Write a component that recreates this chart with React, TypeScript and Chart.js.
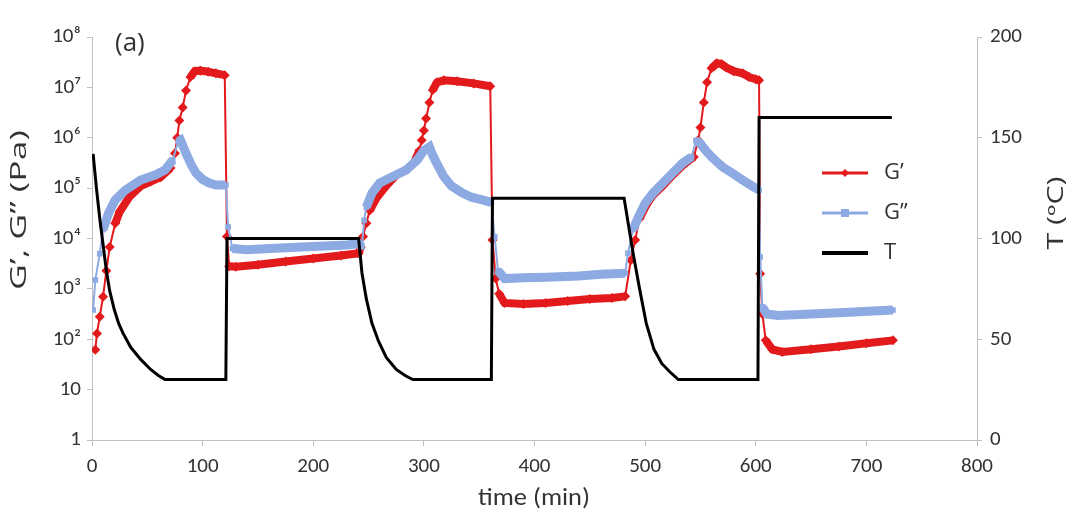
import React, { useEffect, useRef } from "react";
import { Chart, registerables } from "chart.js";
Chart.register(...registerables);

// ---- data ----
const gPrimeTime = [
  3, 4.5, 7, 10, 13, 16, 21, 25, 34, 44, 53, 62, 71, 75, 77, 79, 82, 85, 89, 93, 98, 105, 112, 120,
  122, 124, 130, 150, 175, 200, 225, 241,
  243, 245, 248, 251, 257, 266, 275, 284, 291, 296, 298, 300, 302, 305, 308, 312, 318, 330, 345, 360,
  362, 365, 368, 373, 390, 410, 430, 450, 470, 482,
  487, 491, 495, 501, 507, 516, 525, 534, 544, 548, 550, 553, 556, 560, 565, 569, 573, 580, 588, 594, 600, 603,
  604, 606, 609, 615, 624, 650, 675, 700, 724,
];
const gPrimeValues = [
  62, 130, 280, 700, 2300, 6800, 20000, 34000, 68000, 110000, 135000, 165000, 250000, 490000, 1e6, 2.2e6, 4e6, 8.7e6, 1.6e7, 2.1e7, 2.15e7, 2.05e7, 1.9e7, 1.75e7,
  11000, 2800, 2750, 3000, 3500, 4000, 4600, 5100,
  6800, 11000, 20000, 36000, 63000, 112000, 182000, 229000, 316000, 560000, 890000, 1.4e6, 2.4e6, 5e6, 8.9e6, 1.26e7, 1.38e7, 1.32e7, 1.2e7, 1.05e7,
  9300, 1600, 800, 525, 500, 525, 575, 630, 660, 710,
  3700, 9300, 25000, 46000, 72000, 112000, 182000, 282000, 417000, 890000, 1.6e6, 5e6, 1.26e7, 2.4e7, 3.0e7, 2.9e7, 2.5e7, 2.1e7, 1.9e7, 1.6e7, 1.45e7, 1.38e7,
  2000, 316, 95, 63, 56, 63, 72, 83, 95,
];

const gDoublePrimeTime = [
  1, 3, 7, 10, 15, 21, 30, 44, 57, 66, 73, 78, 80, 85, 90, 94, 100, 106, 112, 121,
  123, 127, 140, 170, 200, 230, 241,
  244, 246, 248, 253, 260, 271, 284, 294, 300, 305, 308, 312, 318, 325, 335, 343, 352, 361,
  364, 367, 373, 390, 410, 440, 460, 482,
  484.5, 489, 494, 500, 507, 516, 525, 534, 542, 546, 550, 555, 560, 565, 570, 580, 588, 596, 603,
  604, 606, 610, 620, 650, 680, 724,
];
const gDoublePrimeValues = [
  380, 1500, 5000, 15000, 32000, 58000, 91000, 145000, 182000, 229000, 363000, 850000, 900000, 490000, 282000, 200000, 148000, 126000, 115000, 115000,
  17000, 6300, 6000, 6500, 6900, 7400, 7900,
  6800, 23000, 42000, 79000, 126000, 166000, 229000, 363000, 560000, 660000, 447000, 300000, 170000, 110000, 80000, 66000, 59000, 52000,
  10700, 2300, 1600, 1660, 1700, 1800, 1950, 2040,
  5100, 15000, 27000, 50000, 79000, 126000, 200000, 316000, 417000, 890000, 760000, 550000, 420000, 330000, 263000, 190000, 145000, 112000, 91000,
  4300, 440, 316, 295, 316, 340, 380,
];

const tempTime = [
  1, 4, 7, 10, 13, 16, 20, 24, 28, 35, 44, 53, 60, 66, 121,
  122, 241, 244, 248, 253, 259, 266, 275, 283, 290, 361,
  362, 481, 489, 495, 501, 508, 515, 522, 530, 602,
  603, 723,
];
const tempValues = [
  142, 125, 110, 97, 84, 74, 65, 58, 53, 46, 40, 35, 32, 30, 30,
  100, 100, 83, 70, 58, 49, 41, 35, 32, 30, 30,
  120, 120, 93, 75, 58, 45, 38, 34, 30, 30,
  160, 160,
];

const xTicks = [0, 100, 200, 300, 400, 500, 600, 700, 800];
const leftTickValues = [1, 10, 100, 1000, 1e4, 1e5, 1e6, 1e7, 1e8];
const leftTickLabels = ["1", "10", "10²", "10³", "10⁴", "10⁵", "10⁶", "10⁷", "10⁸"];
const rightTicks = [0, 50, 100, 150, 200];
const seriesLabels = ["G’", "G”", "T"];
const leftTitle = "G’, G” (Pa)";
const rightTitle = "T (ºC)";
const xTitle = "time (min)";
const panelLabel = "(a)";

const RED = "#e31a1c";
const BLUE = "#8eaae3";
const BLACK = "#000000";
const TEXT = "#333333";
const AXIS = "#bfbfbf";
const FONT = 'Carlito, "Liberation Sans Narrow", "Open Sans", sans-serif';
const TITLE_FONT = '"Open Sans", "Liberation Sans", sans-serif';

const zip = (xs: number[], ys: number[]) => xs.map((x, i) => ({ x, y: ys[i] }));

const segWidth = (thick: number) => (ctx: any) => {
  const dx = Math.abs(ctx.p1.x - ctx.p0.x);
  const dy = Math.abs(ctx.p1.y - ctx.p0.y);
  return dy > 3 * dx ? 2 : thick;
};

// draw text stretched along its direction to a target length
const stretchedText = (ctx: CanvasRenderingContext2D, text: string, cx: number, cy: number, angle: number, len: number) => {
  const w = ctx.measureText(text).width;
  ctx.save();
  ctx.translate(cx, cy);
  ctx.rotate(angle);
  ctx.scale(len / w, 1);
  ctx.fillText(text, 0, 0);
  ctx.restore();
};

const annotate = {
  id: "annotate",
  afterDraw(chart: any) {
    const ctx = chart.ctx as CanvasRenderingContext2D;
    ctx.save();
    ctx.fillStyle = TEXT;
    ctx.textBaseline = "middle";
    ctx.textAlign = "center";
    ctx.font = `21px ${TITLE_FONT}`;
    stretchedText(ctx, leftTitle, 20, 210, -Math.PI / 2, 160);
    stretchedText(ctx, rightTitle, 1057, 213, -Math.PI / 2, 73);
    ctx.font = `24px ${FONT}`;
    stretchedText(ctx, xTitle, 534, 499, 0, 112);
    ctx.font = `26px ${TITLE_FONT}`;
    ctx.textAlign = "left";
    ctx.fillText(panelLabel, 115, 44);
    // legend
    const lx0 = 822, lx1 = 868, tx = 884;
    const rows = [173, 213, 253];
    ctx.strokeStyle = RED; ctx.lineWidth = 3;
    ctx.beginPath(); ctx.moveTo(lx0, rows[0]); ctx.lineTo(lx1, rows[0]); ctx.stroke();
    ctx.fillStyle = RED;
    ctx.beginPath(); ctx.moveTo(845, rows[0] - 4); ctx.lineTo(849, rows[0]); ctx.lineTo(845, rows[0] + 4); ctx.lineTo(841, rows[0]); ctx.closePath(); ctx.fill();
    ctx.strokeStyle = BLUE; ctx.lineWidth = 3;
    ctx.beginPath(); ctx.moveTo(lx0, rows[1]); ctx.lineTo(lx1, rows[1]); ctx.stroke();
    ctx.fillStyle = BLUE;
    ctx.fillRect(841, rows[1] - 4, 8, 8);
    ctx.strokeStyle = BLACK; ctx.lineWidth = 4;
    ctx.beginPath(); ctx.moveTo(lx0, rows[2]); ctx.lineTo(lx1, rows[2]); ctx.stroke();
    ctx.fillStyle = TEXT;
    ctx.font = `22px ${TITLE_FONT}`;
    seriesLabels.forEach((s, i) => ctx.fillText(s, tx, rows[i]));
    ctx.restore();
  },
};

export default function App() {
  const ref = useRef<HTMLCanvasElement>(null);
  useEffect(() => {
    if (!ref.current) return;
    const chart = new Chart(ref.current, {
      type: "line",
      data: {
        datasets: [
          {
            label: seriesLabels[2],
            data: zip(tempTime, tempValues),
            yAxisID: "y2",
            borderColor: BLACK,
            borderWidth: 3,
            pointRadius: 0,
            order: 0,
          },
          {
            label: seriesLabels[1],
            data: zip(gDoublePrimeTime, gDoublePrimeValues),
            yAxisID: "y",
            borderColor: BLUE,
            backgroundColor: BLUE,
            borderWidth: 9,
            pointStyle: "rect",
            pointRadius: 4,
            pointBorderWidth: 0,
            segment: { borderWidth: segWidth(9) },
            order: 1,
          },
          {
            label: seriesLabels[0],
            data: zip(gPrimeTime, gPrimeValues),
            yAxisID: "y",
            borderColor: RED,
            backgroundColor: RED,
            borderWidth: 8,
            pointStyle: "rectRot",
            pointRadius: 5,
            pointBorderWidth: 0,
            segment: { borderWidth: segWidth(8) },
            order: 2,
          },
        ],
      },
      options: {
        animation: false,
        responsive: false,
        layout: { padding: { top: 37, left: 0, right: 0, bottom: 0 } },
        plugins: { legend: { display: false }, tooltip: { enabled: false } },
        scales: {
          x: {
            type: "linear",
            min: 0,
            max: 800,
            afterBuildTicks: (s: any) => { s.ticks = xTicks.map((v) => ({ value: v })); },
            afterFit: (s: any) => { s.height = 73; },
            ticks: { color: TEXT, font: { family: FONT, size: 21 }, padding: 8, maxRotation: 0 },
            grid: { drawOnChartArea: false, tickLength: 6, color: AXIS },
            border: { color: AXIS, width: 1 },
          },
          y: {
            type: "logarithmic",
            position: "left",
            min: 1,
            max: 1e8,
            afterBuildTicks: (s: any) => { s.ticks = leftTickValues.map((v) => ({ value: v })); },
            afterFit: (s: any) => { s.width = 92; },
            ticks: {
              color: TEXT,
              font: { family: FONT, size: 21 },
              padding: 6,
              callback: (v: any) => {
                const i = leftTickValues.indexOf(Number(v));
                return i >= 0 ? leftTickLabels[i] : "";
              },
            },
            grid: { drawOnChartArea: false, tickLength: 5, color: AXIS },
            border: { color: AXIS, width: 1 },
          },
          y2: {
            type: "linear",
            position: "right",
            min: 0,
            max: 200,
            afterBuildTicks: (s: any) => { s.ticks = rightTicks.map((v) => ({ value: v })); },
            afterFit: (s: any) => { s.width = 96; },
            ticks: { color: TEXT, font: { family: FONT, size: 21 }, padding: 8 },
            grid: { drawOnChartArea: false, tickLength: 5, color: AXIS },
            border: { color: AXIS, width: 1 },
          },
        },
      },
      plugins: [annotate],
    });
    return () => chart.destroy();
  }, []);
  return (
    <div style={{ position: "absolute", left: 0, top: 0, width: 1073, height: 513, background: "#fff" }}>
      <canvas ref={ref} width={1073} height={513} style={{ display: "block" }} />
    </div>
  );
}
